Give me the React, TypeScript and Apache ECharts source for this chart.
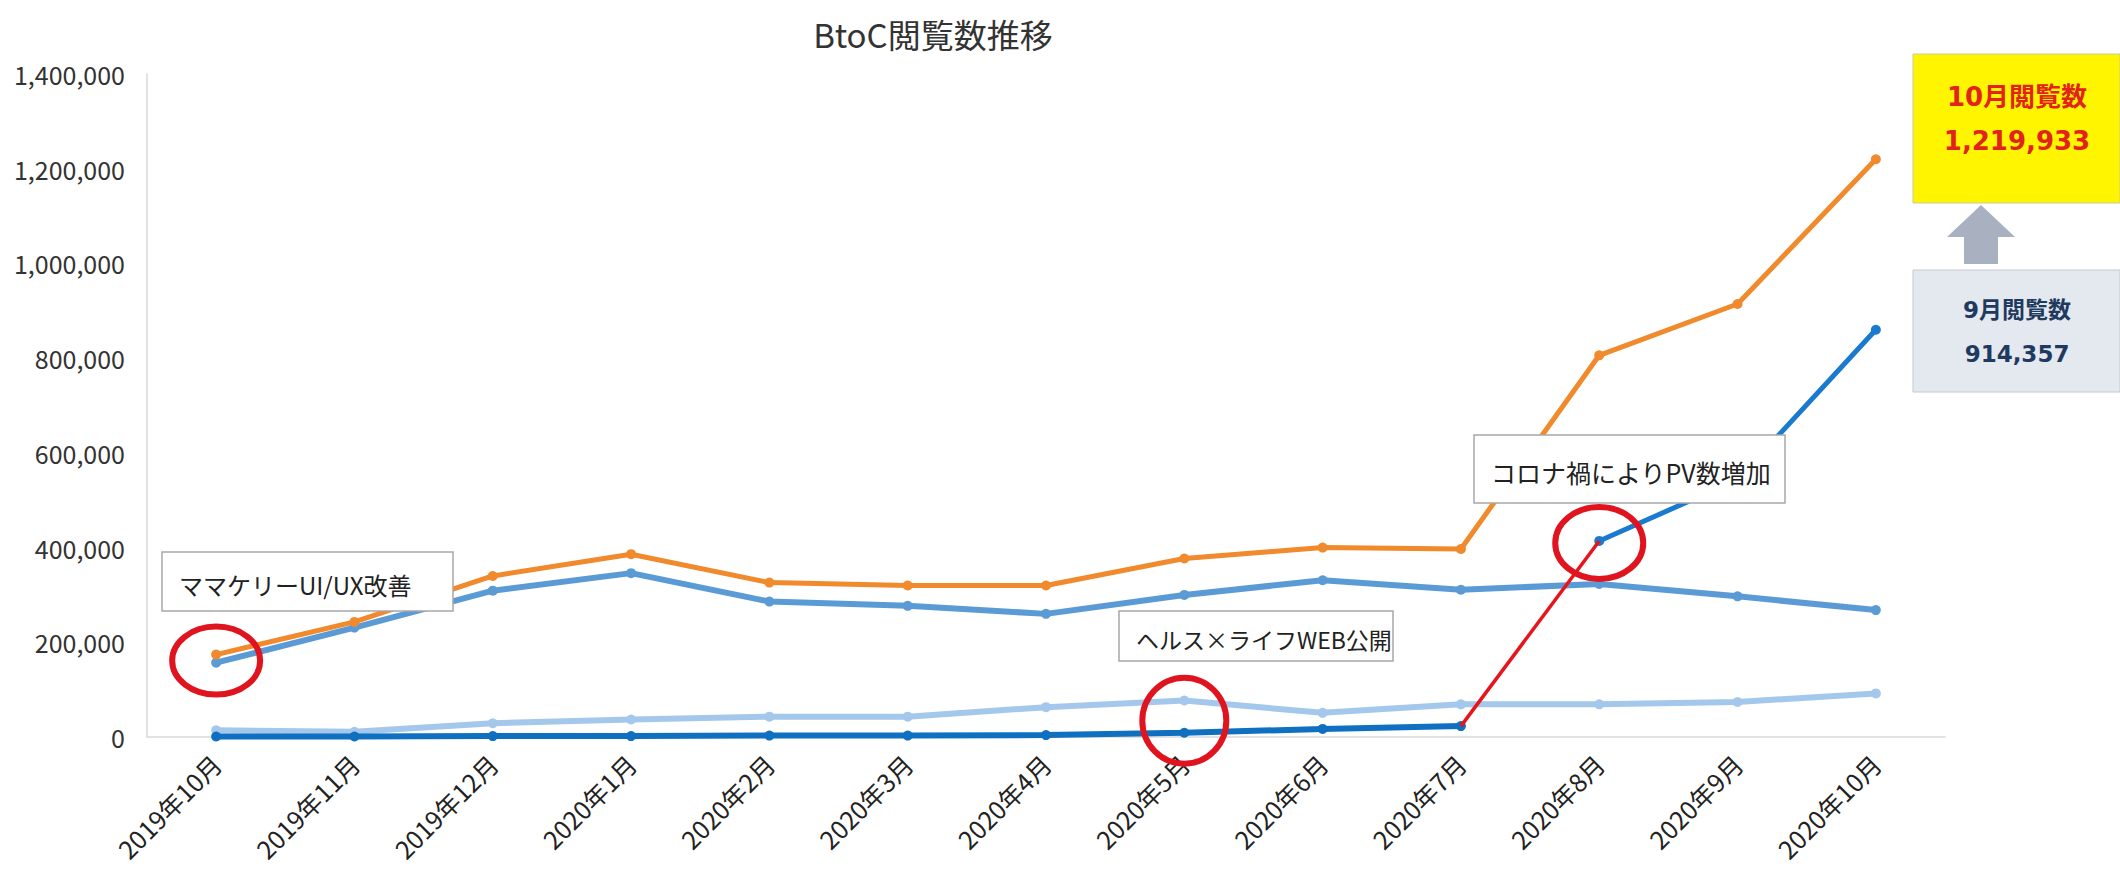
import React, { useEffect, useRef } from "react";
import * as echarts from "echarts";

const categories = [
  "2019年10月", "2019年11月", "2019年12月", "2020年1月", "2020年2月", "2020年3月",
  "2020年4月", "2020年5月", "2020年6月", "2020年7月", "2020年8月", "2020年9月", "2020年10月",
];
const totalViews = [174000, 243000, 340000, 386000, 326000, 320000, 320000, 377000, 400000, 397000, 806000, 914357, 1219933];
const mamakeriViews = [157000, 231000, 309000, 346000, 286000, 277000, 260000, 300000, 331000, 311000, 323000, 297000, 268000];
const otherViews = [14000, 11000, 29000, 37000, 43000, 43000, 63000, 77000, 51000, 69000, 69000, 74000, 92000];
const healthLifeViews = [1000, 1000, 2000, 2000, 3000, 3000, 4000, 9000, 17000, 23000, 414000, 543357, 859933];
const redSegmentFrom = 9; // 2020年7月 -> 2020年8月
const yTicks = { min: 0, max: 1400000, interval: 200000 };

const FONT = '"Noto Sans CJK JP", "Noto Sans", sans-serif';

export default function App() {
  const ref = useRef<HTMLDivElement>(null);
  useEffect(() => {
    if (!ref.current) return;
    const chart = echarts.init(ref.current, null, { renderer: "svg" });
    const partA = healthLifeViews.map((v, i) => (i <= redSegmentFrom ? v : null));
    const partB = healthLifeViews.map((v, i) => (i >= redSegmentFrom + 1 ? v : null));
    const redPart = healthLifeViews.map((v, i) => (i === redSegmentFrom || i === redSegmentFrom + 1 ? v : null));
    const lineSeries = (name: string, data: (number | null)[], color: string, width: number, z: number) => ({
      type: "line",
      name,
      data,
      z,
      symbol: "circle",
      symbolSize: 10,
      showSymbol: true,
      itemStyle: { color },
      lineStyle: { color, width },
      emphasis: { disabled: true },
    });
    chart.setOption({
      animation: false,
      grid: { left: 147, right: 175, top: 74, bottom: 148, containLabel: false },
      xAxis: {
        type: "category",
        data: categories,
        boundaryGap: true,
        axisTick: { show: false },
        axisLine: { show: true, lineStyle: { color: "#D9D9D9", width: 1.5 } },
        axisLabel: { rotate: 45, interval: 0, fontSize: 25, color: "#222", fontFamily: FONT, margin: 22 },
      },
      yAxis: {
        type: "value",
        min: yTicks.min,
        max: yTicks.max,
        interval: yTicks.interval,
        splitLine: { show: false },
        axisLine: { show: true, lineStyle: { color: "#D9D9D9", width: 1.5 } },
        axisTick: { show: false },
        axisLabel: {
          fontSize: 25,
          color: "#333",
          fontFamily: FONT,
          margin: 22,
          formatter: (v: number) => v.toLocaleString("en-US"),
        },
      },
      series: [
        lineSeries("その他", otherViews, "#A4C8EC", 6, 2),
        lineSeries("ママケリー", mamakeriViews, "#5B9BD5", 6, 3),
        lineSeries("合計", totalViews, "#F08A2C", 5, 4),
        lineSeries("ヘルス×ライフ", partA, "#0F6FC0", 6, 5),
        lineSeries("ヘルス×ライフ2", partB, "#1A7ACF", 5, 5),
        {
          type: "line",
          name: "増加",
          data: redPart,
          z: 6,
          showSymbol: false,
          symbol: "none",
          lineStyle: { color: "#E8141C", width: 3.5 },
          emphasis: { disabled: true },
        },
      ],
    });

    const px = (i: number, v: number) => chart.convertToPixel({ gridIndex: 0 } as any, [i, v]) as number[];
    const c1 = px(0, (totalViews[0] + mamakeriViews[0]) / 2);
    const c2 = px(7, (otherViews[7] + healthLifeViews[7]) / 2);
    const c3 = px(10, healthLifeViews[10]);
    const circle = (c: number[], rx: number, ry: number, dx = 0, dy = 0) => ({
      type: "ellipse",
      z: 100,
      shape: { cx: c[0] + dx, cy: c[1] + dy, rx, ry },
      style: { fill: "none", stroke: "#E0141E", lineWidth: 6 },
    });
    const box = (x: number, y: number, w: number, h: number, text: string, size: number) => [
      {
        type: "rect",
        z: 100,
        shape: { x, y, width: w, height: h },
        style: { fill: "#fff", stroke: "#A8A8A8", lineWidth: 1.5 },
      },
      {
        type: "text",
        z: 101,
        x: x + 17,
        y: y + h / 2 + 3,
        style: { text, font: `${size}px ${FONT}`, fill: "#222", textVerticalAlign: "middle" },
      },
    ];
    chart.setOption({
      graphic: [
        {
          type: "text",
          z: 100,
          x: 933,
          y: 34,
          style: { text: "BtoC閲覧数推移", font: `33px ${FONT}`, fill: "#333", textAlign: "center", textVerticalAlign: "middle" },
        },
        ...box(162, 552, 291, 59, "ママケリーUI/UX改善", 24),
        ...box(1119, 611, 274, 50, "ヘルス×ライフWEB公開", 23),
        ...box(1474, 435, 311, 68, "コロナ禍によりPV数増加", 25),
        circle(c1, 44, 34, 0, 2),
        circle(c2, 42, 43, 0, 4),
        circle(c3, 44, 36, 0, 2),
        {
          type: "rect",
          z: 100,
          shape: { x: 1913, y: 54, width: 207, height: 149 },
          style: { fill: "#FFF500", stroke: "#C9C9A0", lineWidth: 1 },
        },
        {
          type: "text",
          z: 101,
          x: 2017,
          y: 97,
          style: { text: "10月閲覧数", font: `bold 26px "DejaVu Sans", ${FONT}`, fill: "#E2231A", textAlign: "center", textVerticalAlign: "middle" },
        },
        {
          type: "text",
          z: 101,
          x: 2017,
          y: 141,
          style: { text: "1,219,933", font: `bold 26px "DejaVu Sans", ${FONT}`, fill: "#E2231A", textAlign: "center", textVerticalAlign: "middle" },
        },
        {
          type: "polygon",
          z: 100,
          shape: {
            points: [
              [1981, 205], [2015, 237], [1998, 237], [1998, 264], [1964, 264], [1964, 237], [1947, 237],
            ],
          },
          style: { fill: "#A9B1C0" },
        },
        {
          type: "rect",
          z: 100,
          shape: { x: 1913, y: 270, width: 207, height: 122 },
          style: { fill: "#E4E8EF", stroke: "#C4C8CF", lineWidth: 1 },
        },
        {
          type: "text",
          z: 101,
          x: 2017,
          y: 310,
          style: { text: "9月閲覧数", font: `bold 23px "DejaVu Sans", ${FONT}`, fill: "#1F3A5F", textAlign: "center", textVerticalAlign: "middle" },
        },
        {
          type: "text",
          z: 101,
          x: 2017,
          y: 354,
          style: { text: "914,357", font: `bold 23px "DejaVu Sans", ${FONT}`, fill: "#1F3A5F", textAlign: "center", textVerticalAlign: "middle" },
        },
      ],
    });
    return () => chart.dispose();
  }, []);
  return (
    <div
      ref={ref}
      style={{ position: "fixed", left: 0, top: 0, width: 2120, height: 885, background: "#fff" }}
    />
  );
}
